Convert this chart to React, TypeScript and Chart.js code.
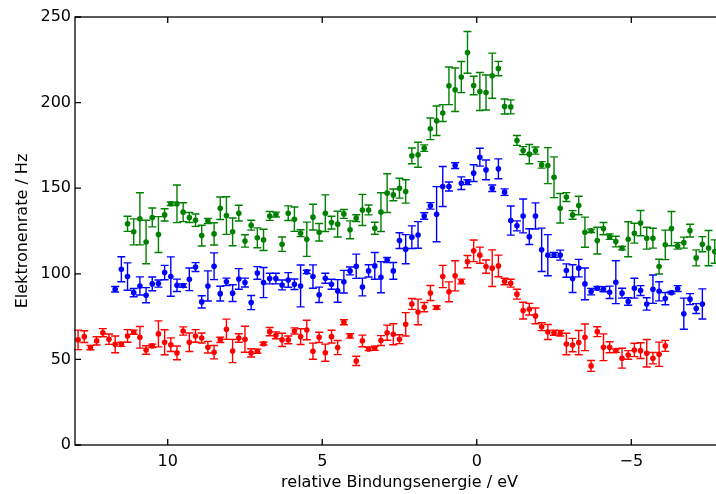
import React, { useEffect, useRef } from "react";
import { Chart, registerables } from "chart.js";

Chart.register(...registerables);

// Binding-energy grid (eV), measured in 0.2 eV steps
const energyGrid = [
  12.9, 12.7, 12.5, 12.3, 12.1, 11.9, 11.7, 11.5, 11.3, 11.1, 10.9, 10.7, 10.5, 10.3, 10.1,
  9.9, 9.7, 9.5, 9.3, 9.1, 8.9, 8.7, 8.5, 8.3, 8.1, 7.9, 7.7, 7.5, 7.3, 7.1, 6.9, 6.7, 6.5,
  6.3, 6.1, 5.9, 5.7, 5.5, 5.3, 5.1, 4.9, 4.7, 4.5, 4.3, 4.1, 3.9, 3.7, 3.5, 3.3, 3.1, 2.9,
  2.7, 2.5, 2.3, 2.1, 1.9, 1.7, 1.5, 1.3, 1.1, 0.9, 0.7, 0.5, 0.3, 0.1, -0.1, -0.3, -0.5,
  -0.7, -0.9, -1.1, -1.3, -1.5, -1.7, -1.9, -2.1, -2.3, -2.5, -2.7, -2.9, -3.1, -3.3, -3.5,
  -3.7, -3.9, -4.1, -4.3, -4.5, -4.7, -4.9, -5.1, -5.3, -5.5, -5.7, -5.9, -6.1, -6.3, -6.5,
  -6.7, -6.9, -7.1, -7.3, -7.5, -7.7,
];

// red series: 12.9 ... -6.1 eV
const redEnergy = energyGrid.slice(0, 96);
const redRate = [
  61.4, 63.3, 56.9, 60.8, 65.6, 61.8, 58.8, 58.8, 63.7, 65.9,
  62.9, 55.5, 57.9, 64.9, 60.0, 58.6, 53.8, 66.6, 60.0, 63.7,
  62.5, 57.1, 54.2, 61.4, 67.6, 54.9, 62.5, 61.8, 53.8, 54.8,
  59.2, 66.2, 64.1, 61.4, 61.4, 66.6, 63.3, 67.2, 54.8, 62.9,
  53.9, 63.3, 56.9, 71.7, 63.7, 49.1, 60.8, 56.1, 56.5, 61.0,
  65.6, 64.7, 61.8, 70.5, 82.4, 77.7, 80.5, 88.8, 80.3, 98.4,
  89.5, 98.8, 95.5, 107.1, 113.4, 110.9, 104.2, 103.3, 104.6, 95.5,
  94.5, 88.1, 78.5, 79.3, 75.4, 69.1, 66.0, 65.6, 65.3, 59.0,
  58.4, 59.8, 62.9, 46.2, 66.2, 57.1, 57.1, 55.1, 50.7, 52.6,
  55.5, 55.1, 53.6, 50.7, 53.0, 57.9,
];
const redErr = [
  5.7, 3.4, 1.3, 2.4, 2.4, 3.0, 4.9, 1.2, 3.7, 1.2,
  6.3, 2.5, 1.0, 7.6, 7.3, 4.0, 4.0, 2.4, 5.4, 3.7,
  2.9, 3.4, 3.9, 1.5, 5.9, 6.8, 2.5, 7.6, 2.4, 1.2,
  0.8, 2.4, 2.0, 3.9, 2.3, 1.8, 4.6, 5.7, 4.7, 3.0,
  5.0, 3.7, 4.1, 1.5, 1.3, 2.7, 3.4, 1.0, 1.2, 2.9,
  4.4, 6.1, 2.6, 6.8, 3.2, 7.5, 2.7, 4.4, 1.0, 6.5,
  5.8, 8.8, 1.4, 3.6, 6.3, 4.7, 3.9, 10.7, 6.3, 1.9,
  2.3, 2.9, 4.9, 3.4, 4.6, 2.3, 4.4, 1.5, 1.6, 6.3,
  3.9, 7.1, 7.8, 3.2, 2.9, 7.8, 3.2, 1.0, 5.8, 2.5,
  3.9, 4.6, 8.0, 3.3, 7.1, 3.2,
];

// blue series: 11.7 ... -7.3 eV
const blueEnergy = energyGrid.slice(6, 102);
const blueRate = [
  91.0, 102.7, 98.4, 89.0, 92.9, 87.5, 94.1, 94.3, 100.7, 98.4,
  93.3, 93.1, 96.8, 103.9, 83.6, 92.9, 104.4, 88.4, 95.3, 88.7,
  97.0, 94.9, 83.2, 100.5, 94.9, 97.2, 97.2, 93.5, 96.4, 93.9,
  92.9, 101.1, 98.4, 87.7, 97.4, 93.9, 90.0, 95.4, 101.7, 104.4,
  92.3, 101.7, 104.6, 98.0, 108.0, 101.7, 119.4, 114.4, 121.4, 122.7,
  133.8, 139.7, 134.8, 151.0, 151.0, 163.2, 152.9, 153.5, 158.8, 168.1,
  160.7, 150.0, 161.3, 147.7, 131.1, 128.0, 133.8, 121.7, 133.8, 114.0,
  110.9, 111.0, 110.9, 101.9, 97.2, 103.3, 94.1, 89.6, 91.6, 91.0,
  89.2, 95.1, 88.7, 83.8, 91.6, 90.2, 82.4, 91.0, 89.8, 85.5,
  89.0, 91.4, 76.7, 85.2, 79.7, 82.4,
];
const blueErr = [
  1.6, 7.3, 8.0, 2.4, 5.3, 4.4, 4.0, 2.1, 4.2, 11.5,
  3.6, 1.0, 6.6, 2.6, 3.6, 8.8, 7.8, 4.3, 2.2, 4.9,
  6.0, 2.6, 4.1, 3.7, 8.8, 3.1, 3.1, 2.9, 4.3, 3.1,
  12.2, 1.0, 6.8, 4.5, 2.9, 2.9, 6.6, 6.6, 2.3, 7.1,
  5.2, 3.6, 7.8, 9.1, 1.5, 4.9, 4.6, 8.5, 6.6, 7.8,
  1.9, 1.9, 16.1, 11.7, 2.6, 1.7, 3.7, 1.4, 4.9, 5.2,
  5.8, 1.9, 5.8, 1.9, 8.5, 2.9, 9.9, 4.6, 7.6, 12.7,
  12.0, 1.4, 2.9, 3.9, 8.1, 5.1, 9.3, 1.9, 1.0, 1.5,
  3.6, 12.5, 2.9, 2.2, 5.8, 2.9, 3.6, 8.3, 5.6, 3.6,
  0.7, 1.7, 9.1, 3.2, 2.9, 8.8,
];

// green series: 11.3 ... -7.7 eV
const greenEnergy = energyGrid.slice(8, 104);
const greenRate = [
  129.2, 124.5, 132.1, 118.6, 132.9, 122.9, 134.4, 140.9, 140.9, 136.0,
  132.9, 131.3, 122.3, 130.9, 123.3, 138.3, 134.0, 124.5, 135.4, 119.2,
  128.4, 121.0, 119.8, 133.8, 134.6, 117.3, 135.4, 131.9, 123.7, 120.2,
  133.1, 124.3, 135.4, 129.9, 129.0, 135.0, 125.7, 132.5, 137.3, 137.3,
  126.6, 136.0, 147.1, 146.1, 150.0, 148.1, 168.9, 169.5, 173.4, 184.7,
  189.4, 193.9, 209.8, 207.5, 214.9, 229.3, 210.0, 206.5, 205.9, 215.7,
  219.9, 197.7, 197.5, 177.9, 172.0, 169.9, 172.0, 163.6, 163.2, 156.4,
  138.3, 144.8, 134.4, 139.9, 124.3, 125.1, 119.4, 126.4, 121.7, 118.8,
  115.0, 120.2, 123.7, 129.6, 120.8, 120.8, 104.2, 116.9, 126.4, 116.3,
  118.2, 125.2, 109.3, 117.3, 115.0, 113.0,
];
const greenErr = [
  4.4, 7.6, 15.2, 12.7, 5.5, 10.5, 3.6, 1.0, 11.0, 5.5,
  2.9, 3.6, 6.1, 1.5, 6.5, 6.6, 11.0, 8.1, 4.6, 3.6,
  2.9, 5.8, 6.2, 2.6, 1.4, 4.2, 4.3, 7.1, 2.0, 10.0,
  7.5, 5.1, 10.7, 3.7, 7.5, 2.6, 5.2, 2.0, 9.1, 2.9,
  3.5, 11.3, 11.3, 3.4, 5.8, 6.8, 4.6, 7.3, 1.9, 6.3,
  8.6, 4.9, 11.0, 12.7, 9.1, 12.2, 5.4, 11.1, 10.2, 13.2,
  4.2, 4.4, 4.1, 2.9, 2.3, 5.6, 2.1, 1.9, 10.5, 11.9,
  8.6, 2.6, 2.5, 5.4, 8.8, 1.0, 7.8, 3.6, 1.6, 3.1,
  1.0, 10.2, 5.8, 7.4, 6.4, 5.8, 4.3, 8.6, 10.0, 1.9,
  3.2, 3.7, 4.7, 4.4, 10.3, 6.8,
];

const FONT = "'DejaVu Sans', 'Liberation Sans', sans-serif";

const errorBarPlugin = {
  id: "errorBars",
  beforeDatasetsDraw(chart: any) {
    const { ctx, scales } = chart;
    const xs = scales.x;
    const ys = scales.y;
    chart.data.datasets.forEach((ds: any) => {
      ctx.save();
      ctx.strokeStyle = ds.backgroundColor;
      ctx.lineWidth = 1.4;
      ds.data.forEach((p: any, i: number) => {
        const e = ds.errors[i];
        const px = xs.getPixelForValue(p.x);
        const top = ys.getPixelForValue(p.y + e);
        const bot = ys.getPixelForValue(p.y - e);
        ctx.beginPath();
        ctx.moveTo(px, top);
        ctx.lineTo(px, bot);
        ctx.moveTo(px - 4, top);
        ctx.lineTo(px + 4, top);
        ctx.moveTo(px - 4, bot);
        ctx.lineTo(px + 4, bot);
        ctx.stroke();
      });
      ctx.restore();
    });
  },
};

const axesPlugin = {
  id: "mplAxes",
  afterDatasetsDraw(chart: any) {
    const { ctx, chartArea: a, scales } = chart;
    const xs = scales.x;
    const ys = scales.y;
    const L = 6;
    ctx.save();
    ctx.strokeStyle = "#000";
    ctx.lineWidth = 1.3;
    ctx.strokeRect(a.left, a.top, a.right - a.left, a.bottom - a.top);
    ctx.beginPath();
    xs.ticks.forEach((t: any) => {
      const px = xs.getPixelForValue(t.value);
      ctx.moveTo(px, a.bottom);
      ctx.lineTo(px, a.bottom - L);
      ctx.moveTo(px, a.top);
      ctx.lineTo(px, a.top + L);
    });
    ys.ticks.forEach((t: any) => {
      const py = ys.getPixelForValue(t.value);
      ctx.moveTo(a.left, py);
      ctx.lineTo(a.left + L, py);
      ctx.moveTo(a.right, py);
      ctx.lineTo(a.right - L, py);
    });
    ctx.stroke();
    ctx.restore();
  },
};

function makeSeries(xs: number[], ys: number[], errs: number[], color: string) {
  return {
    data: xs.map((x, i) => ({ x, y: ys[i] })),
    errors: errs,
    backgroundColor: color,
    borderColor: color,
    pointRadius: 2.8,
    pointBorderWidth: 0,
    showLine: false,
  };
}

export default function App() {
  const ref = useRef<HTMLCanvasElement | null>(null);

  useEffect(() => {
    document.body.style.margin = "0";
    const canvas = ref.current;
    if (!canvas) return;
    const chart = new Chart(canvas, {
      type: "scatter",
      data: {
        datasets: [
          makeSeries(redEnergy, redRate, redErr, "#ff0000"),
          makeSeries(blueEnergy, blueRate, blueErr, "#0000ff"),
          makeSeries(greenEnergy, greenRate, greenErr, "#008000"),
        ] as any,
      },
      options: {
        responsive: false,
        maintainAspectRatio: false,
        devicePixelRatio: 1,
        animation: false,
        layout: { padding: { left: 0, top: 17, right: 16, bottom: 0 } },
        plugins: { legend: { display: false }, tooltip: { enabled: false } },
        scales: {
          x: {
            type: "linear",
            reverse: true,
            min: -8,
            max: 13,
            grid: { display: false, drawTicks: false },
            border: { display: false },
            ticks: {
              stepSize: 5,
              includeBounds: false,
              padding: 7,
              color: "#000",
              font: { family: FONT, size: 16 },
              callback: (v: any) => (v < 0 ? "\u2212" + Math.abs(v) : String(v)),
            },
            title: {
              display: true,
              text: "relative Bindungsenergie / eV",
              color: "#000",
              font: { family: FONT, size: 16 },
              padding: { top: 0, bottom: 2 },
            },
            afterFit: (s: any) => {
              s.height = 49;
            },
          },
          y: {
            type: "linear",
            min: 0,
            max: 250,
            grid: { display: false, drawTicks: false },
            border: { display: false },
            ticks: {
              stepSize: 50,
              padding: 4,
              color: "#000",
              font: { family: FONT, size: 16 },
            },
            title: {
              display: true,
              text: "Elektronenrate / Hz",
              color: "#000",
              font: { family: FONT, size: 16 },
              padding: { top: 13, bottom: 0 },
            },
            afterFit: (s: any) => {
              s.width = 75;
            },
          },
        },
      } as any,
      plugins: [errorBarPlugin, axesPlugin],
    });
    return () => chart.destroy();
  }, []);

  return (
    <div style={{ width: 716, height: 494, overflow: "hidden", position: "relative" }}>
      <canvas ref={ref} width={740} height={494} style={{ display: "block" }} />
    </div>
  );
}
